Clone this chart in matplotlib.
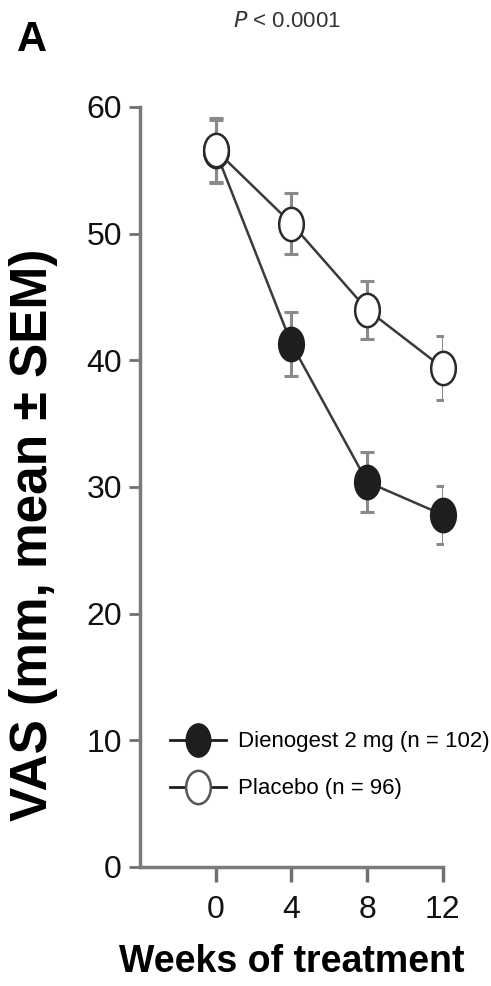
import numpy as np
import matplotlib.pyplot as plt
from matplotlib.path import Path
from matplotlib.transforms import Affine2D
from matplotlib.lines import Line2D

plt.rcParams['font.family'] = ['Liberation Sans', 'DejaVu Sans']

# datos
weeks = [0, 4, 8, 12]
dienogest = [56.5, 41.3, 30.4, 27.8]
dienogest_sem = [2.5, 2.5, 2.4, 2.3]
placebo = [56.6, 50.8, 44.0, 39.4]
placebo_sem = [2.5, 2.4, 2.3, 2.5]
xticks = [0, 4, 8, 12]
yticks = [0, 10, 20, 30, 40, 50, 60]

# marcador ovalado (la imagen original esta estirada en vertical)
oval = Path.unit_circle().transformed(Affine2D().scale(0.74, 1.0))

fig = plt.figure(figsize=(4.91, 9.86), dpi=100)
ax = fig.add_axes([0.2851, 0.1207, 0.617, 0.7708])

err_kw = dict(ecolor='#8a8a8a', elinewidth=2.2, capsize=5, capthick=2.2)

ax.errorbar(weeks, placebo, yerr=placebo_sem, fmt='none', zorder=2, **err_kw)
ax.errorbar(weeks, dienogest, yerr=dienogest_sem, fmt='none', zorder=2, **err_kw)

ax.plot(weeks, dienogest, '-', color='#3a3a3a', lw=1.8, zorder=3,
        marker=oval, ms=24, mfc='#1e1e1e', mec='#1e1e1e', mew=1.8, clip_on=False)
ax.plot(weeks, placebo, '-', color='#3a3a3a', lw=1.8, zorder=4,
        marker=oval, ms=24, mfc='white', mec='#2a2a2a', mew=1.8, clip_on=False)

ax.set_xlim(-4, 12)
ax.set_ylim(0, 60)
ax.set_xticks(xticks)
ax.set_yticks(yticks)
ax.tick_params(axis='both', labelsize=23, colors='#707070', labelcolor='#111111')
ax.tick_params(axis='x', length=11, width=2.5, pad=9)
ax.tick_params(axis='y', length=8, width=2, pad=5)

for s in ['top', 'right']:
    ax.spines[s].set_visible(False)
for s in ['left', 'bottom']:
    ax.spines[s].set_color('#7a7a7a')
    ax.spines[s].set_linewidth(2.5)

ax.set_ylabel('VAS (mm, mean ± SEM)', fontsize=37, fontweight='bold')
ax.yaxis.set_label_coords(-0.27, 0.437)
ax.set_xlabel('Weeks of treatment', fontsize=27, fontweight='bold', labelpad=14)

handles = [
    Line2D([], [], color='#1e1e1e', lw=2, marker=oval, ms=24, mfc='#1e1e1e', mec='#1e1e1e'),
    Line2D([], [], color='#1e1e1e', lw=2, marker=oval, ms=24, mfc='white', mec='#555555', mew=1.8),
]
ax.legend(handles, ['Dienogest 2 mg (n = 102)', 'Placebo (n = 96)'],
          loc='lower left', bbox_to_anchor=(0.099, 0.089), frameon=False,
          fontsize=16, handlelength=2.5, handletextpad=0.55, labelspacing=1.17,
          borderaxespad=0, borderpad=0)

fig.text(0.035, 0.948, 'A', fontsize=30, fontweight='bold')
fig.text(0.475, 0.973, r'$\it{P}$ < 0.0001', fontsize=16, color='#333333')

plt.savefig('out.png', dpi=100)
